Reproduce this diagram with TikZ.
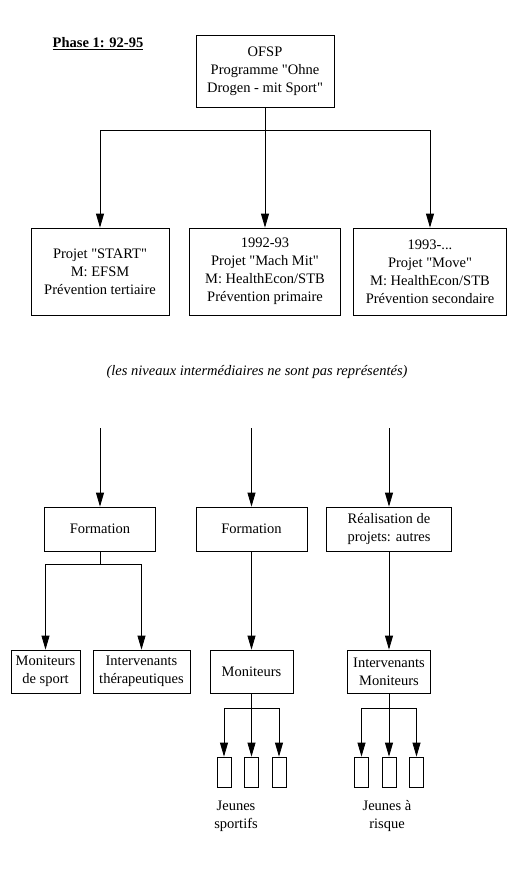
\documentclass[tikz,border=0pt]{standalone}
\usepackage{fontspec}
\setmainfont{Liberation Serif}
\usepackage{tikz}
\usetikzlibrary{arrows.meta, positioning}
\newcommand{\qt}{\textquotedbl}
\tikzset{
  blk/.style ={rectangle, draw, align=center, inner sep=1pt, line width=0.8pt, font=\fontsize{14.5}{18}\selectfont},
  sml/.style ={rectangle, draw, line width=0.8pt, minimum width=14pt, minimum height=30pt, inner sep=0pt},
  lbl/.style ={align=center, font=\fontsize{14.5}{18}\selectfont},
  fl/.style  ={-{Triangle[length=14pt, width=8pt]}, line width=0.8pt},
  ln/.style  ={line width=0.8pt},
}
\begin{document}
\begin{tikzpicture}[x=1pt, y=-1pt]
  \useasboundingbox (0,0) rectangle (515,873);
  % phase 1, top level
  \node[lbl, font=\fontsize{14.5}{18}\selectfont\bfseries] (phase) at (98,44) {\underline{Phase 1: 92-95}};
  \node[blk, minimum width=138pt, minimum height=72pt] (ofsp) at (265,71) {OFSP\\Programme \qt Ohne\\Drogen - mit Sport\qt};
  \node[blk, minimum width=138pt, minimum height=87pt] (start) at (100,271.5) {Projet \qt START\qt\\M: EFSM\\Prévention tertiaire};
  \node[blk, minimum width=151pt, minimum height=87pt] (machmit) at (265,271.5) {1992-93\\Projet \qt Mach Mit\qt\\M: HealthEcon/STB\\Prévention primaire};
  \node[blk, minimum width=153pt, minimum height=87pt] (move) at (430,271.5) {1993-...\\Projet \qt Move\qt\\M: HealthEcon/STB\\Prévention secondaire};
  \coordinate (br0) at (265,130);
  \draw[ln] (ofsp) -- (br0);
  \draw[fl] (br0) -| (start);
  \draw[fl] (br0) -- (machmit);
  \draw[fl] (br0) -| (move);

  \node[lbl, font=\fontsize{14.5}{16}\selectfont\itshape] (note) at (257,372) {(les niveaux intermédiaires ne sont pas représentés)};

  % lower levels
  \coordinate (in1) at (100,428);
  \coordinate (in2) at (251.5,428);
  \coordinate (in3) at (389,428);
  \node[blk, minimum width=111pt, minimum height=44pt] (form1) at (100,529) {Formation};
  \node[blk, minimum width=111pt, minimum height=44pt] (form2) at (251.5,529) {Formation};
  \node[blk, minimum width=125pt, minimum height=44pt] (form3) at (389,529) {Réalisation de\\projets: autres};
  \draw[fl] (in1) -- (form1);
  \draw[fl] (in2) -- (form2);
  \draw[fl] (in3) -- (form3);

  \node[blk, minimum width=69pt, minimum height=43pt] (monsport) at (45.5,671.5) {Moniteurs\\de sport};
  \node[blk, minimum width=97pt, minimum height=43pt] (interther) at (141.5,671.5) {Intervenants\\thérapeutiques};
  \node[blk, minimum width=83pt, minimum height=43pt] (moni) at (251.5,671.5) {Moniteurs};
  \node[blk, minimum width=83pt, minimum height=43pt] (intermon) at (389,671.5) {Intervenants\\Moniteurs};
  \coordinate (br1) at (100,564);
  \draw[ln] (form1) -- (br1);
  \draw[fl] (br1) -| (monsport);
  \draw[fl] (br1) -| (interther);
  \draw[fl] (form2) -- (moni);
  \draw[fl] (form3) -- (intermon);

  % jeunes
  \coordinate (br2) at (251.5,708);
  \coordinate (br3) at (389,708);
  \foreach \i/\dx in {1/-27.5, 2/0, 3/27.5} {
    \node[sml] (js\i) at (251.5+\dx,772) {};
    \node[sml] (jr\i) at (389+\dx,772) {};
    \draw[fl] (br2) -| (js\i);
    \draw[fl] (br3) -| (jr\i);
  }
  \draw[ln] (moni) -- (br2);
  \draw[ln] (intermon) -- (br3);
  \node[lbl] (jsport) at (236,816) {Jeunes\\sportifs};
  \node[lbl] (jrisk) at (387,816) {Jeunes à\\risque};
\end{tikzpicture}
\end{document}
